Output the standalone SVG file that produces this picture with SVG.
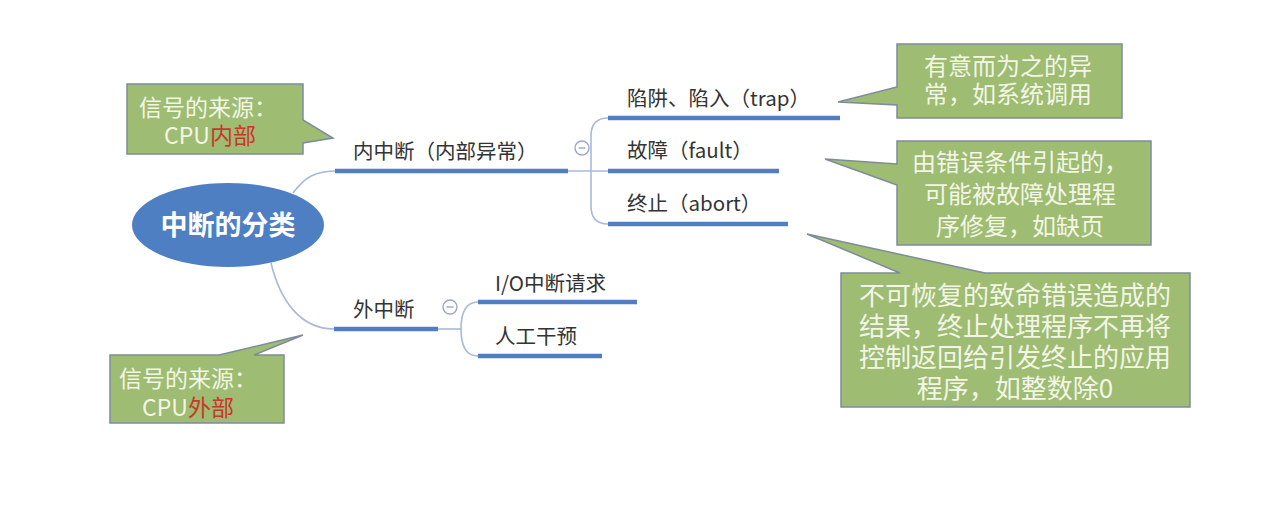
<svg xmlns="http://www.w3.org/2000/svg" width="1280" height="505" viewBox="0 0 1280 505">
<style>
.bg{fill:#ffffff}
.call{fill:#9ebc72;stroke:#7d8c9c;stroke-width:1.5}
.ct{font-family:"Noto Sans CJK SC","Liberation Sans",sans-serif;fill:#f3f6e6;text-anchor:middle}
.red{fill:#c8372d}
.lbl{font-family:"Noto Sans CJK SC","Liberation Sans",sans-serif;font-size:20.5px;fill:#333333}
.ul{stroke:#4f7fc0;stroke-width:4.5;stroke-linecap:butt}
.thin{fill:none;stroke:#a9b9da;stroke-width:1.6}
.tog{fill:#ffffff;stroke:#9aa6cf;stroke-width:1.4}
.togl{stroke:#9aa6cf;stroke-width:1.4}
</style>
<rect class="bg" x="0" y="0" width="1280" height="505"/>

<g id="connectors">
  <path class="thin" d="M293,193 C305,177 315,171 337,171"/>
  <path class="thin" d="M271,263 C280,300 300,329 334,329"/>
  <path class="thin" d="M568,171 H608"/>
  <path class="thin" d="M591,171 V136 Q591,118 608,118"/>
  <path class="thin" d="M591,171 V206 Q591,224 608,224"/>
  <path class="thin" d="M438,329 H461"/>
  <path class="thin" d="M461,329 Q461,302 478,302"/>
  <path class="thin" d="M461,329 Q461,356 478,356"/>
</g>

<g id="root">
  <ellipse cx="228" cy="225" rx="96" ry="42" fill="#4f7fc3"/>
  <text x="228" y="235" font-family="'Noto Sans CJK SC','Liberation Sans',sans-serif" font-size="27" font-weight="bold" fill="#ffffff" text-anchor="middle">中断的分类</text>
</g>

<g id="node-internal">
  <text class="lbl" x="353" y="159">内中断（内部异常）</text>
  <line class="ul" x1="335" y1="171" x2="568" y2="171"/>
  <circle class="tog" cx="582" cy="148" r="7"/>
  <line class="togl" x1="578.5" y1="148" x2="585.5" y2="148"/>
</g>

<g id="node-trap">
  <text class="lbl" x="627" y="106">陷阱、陷入（trap）</text>
  <line class="ul" x1="608" y1="118" x2="840" y2="118"/>
</g>

<g id="node-fault">
  <text class="lbl" x="627" y="158">故障（fault）</text>
  <line class="ul" x1="608" y1="171" x2="779" y2="171"/>
</g>

<g id="node-abort">
  <text class="lbl" x="627" y="211">终止（abort）</text>
  <line class="ul" x1="608" y1="224" x2="788" y2="224"/>
</g>

<g id="node-external">
  <text class="lbl" x="353" y="317">外中断</text>
  <line class="ul" x1="334" y1="329" x2="438" y2="329"/>
  <circle class="tog" cx="450" cy="307" r="7"/>
  <line class="togl" x1="446.5" y1="307" x2="453.5" y2="307"/>
</g>

<g id="node-io">
  <text class="lbl" x="495" y="291">I/O中断请求</text>
  <line class="ul" x1="478" y1="302" x2="637" y2="302"/>
</g>

<g id="node-manual">
  <text class="lbl" x="495" y="344">人工干预</text>
  <line class="ul" x1="478" y1="356" x2="602" y2="356"/>
</g>

<g id="callout-internal-source">
  <path class="call" d="M127,84 H303 V120 L333,138 L303,143 V154 H127 Z"/>
  <text class="ct" font-size="23" x="208" y="116">信号的来源：</text>
  <text class="ct" font-size="23" x="210" y="144">CPU<tspan class="red">内部</tspan></text>
</g>

<g id="callout-trap">
  <path class="call" d="M897,44 H1122 V118 H897 V105 L838,102 L897,87 Z"/>
  <text class="ct" font-size="24" x="1008" y="75">有意而为之的异</text>
  <text class="ct" font-size="24" x="1008" y="103">常，如系统调用</text>
</g>

<g id="callout-fault">
  <path class="call" d="M897,141 H1151 V245 H897 V185 L825,159 L897,164 Z"/>
  <text class="ct" font-size="24" x="1020" y="171">由错误条件引起的，</text>
  <text class="ct" font-size="24" x="1020" y="203">可能被故障处理程</text>
  <text class="ct" font-size="24" x="1020" y="235">序修复，如缺页</text>
</g>

<g id="callout-abort">
  <path class="call" d="M841,273 H900 L807,234 L985,273 H1190 V407 H841 Z"/>
  <text class="ct" font-size="26" x="1015" y="305">不可恢复的致命错误造成的</text>
  <text class="ct" font-size="26" x="1015" y="336">结果，终止处理程序不再将</text>
  <text class="ct" font-size="26" x="1015" y="367">控制返回给引发终止的应用</text>
  <text class="ct" font-size="26" x="1015" y="398">程序，如整数除0</text>
</g>

<g id="callout-external-source">
  <path class="call" d="M110,355 H219 L303,335 L254,355 H284 V423 H110 Z"/>
  <text class="ct" font-size="23" x="188" y="387">信号的来源：</text>
  <text class="ct" font-size="23" x="188" y="416">CPU<tspan class="red">外部</tspan></text>
</g>
</svg>
